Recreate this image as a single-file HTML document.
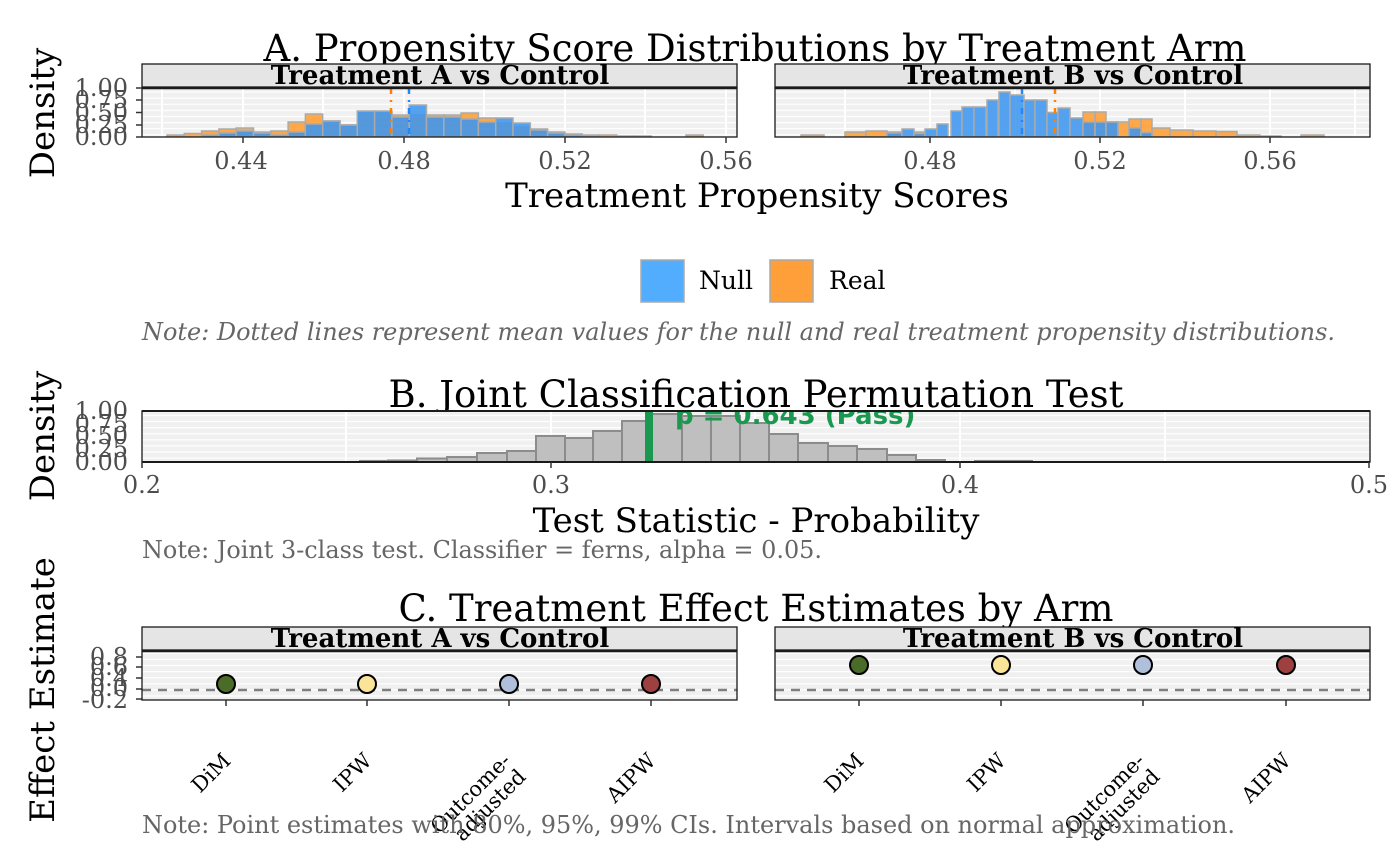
<!DOCTYPE html>
<html><head><meta charset="utf-8"><style>
html,body{margin:0;padding:0;background:#fff}
svg{display:block}
text{font-family:"DejaVu Serif","Liberation Serif",serif}
text.sans{font-family:"DejaVu Sans","Liberation Sans",sans-serif}
</style></head><body>
<svg width="1400" height="866" viewBox="0 0 1400 866" xmlns="http://www.w3.org/2000/svg">
<defs>
<clipPath id="cA1"><rect x="142" y="88" width="595" height="49"/></clipPath>
<clipPath id="cA2"><rect x="775" y="88" width="595" height="49"/></clipPath>
<clipPath id="cB"><rect x="142" y="411" width="1228" height="51"/></clipPath>
<pattern id="hg" width="10" height="6.1" patternUnits="userSpaceOnUse"><rect width="10" height="6.1" fill="#f0f0f0"/><rect width="10" height="1.2" fill="#fff"/></pattern>
</defs>

<!-- ===== A ===== -->
<text x="755" y="61" font-size="37" text-anchor="middle">A. Propensity Score Distributions by Treatment Arm</text>
<text transform="translate(54,113) rotate(-90)" font-size="34" text-anchor="middle">Density</text>
<g font-size="24" fill="#4d4d4d" text-anchor="end">
<text x="128" y="96">1.00</text><text x="128" y="108">0.75</text><text x="128" y="121">0.50</text><text x="128" y="133">0.25</text><text x="128" y="145">0.00</text>
</g>
<!-- left panel -->
<rect x="142" y="64" width="595" height="23" fill="#e5e5e5" stroke="#1a1a1a" stroke-width="1.3"/>
<text x="440" y="84" font-size="26" font-weight="bold" text-anchor="middle">Treatment A vs Control</text>
<rect x="142" y="88" width="595" height="49" fill="url(#hg)"/>
<g stroke="#fff" stroke-width="2"><line x1="162" y1="88" x2="162" y2="137"/><line x1="243" y1="88" x2="243" y2="137"/><line x1="323" y1="88" x2="323" y2="137"/><line x1="404" y1="88" x2="404" y2="137"/><line x1="484" y1="88" x2="484" y2="137"/><line x1="565" y1="88" x2="565" y2="137"/><line x1="645" y1="88" x2="645" y2="137"/><line x1="726" y1="88" x2="726" y2="137"/></g>
<g clip-path="url(#cA1)" stroke="#aaa" stroke-width="1.5">
<g fill="#ff9a2e" fill-opacity="0.85">
<rect x="167" y="135" width="17.3" height="2"/><rect x="184.3" y="133.5" width="17.3" height="3.5"/><rect x="201.6" y="131" width="17.3" height="6"/><rect x="218.9" y="129" width="17.3" height="8"/><rect x="236.2" y="128" width="17.3" height="9"/><rect x="253.5" y="132" width="17.3" height="5"/><rect x="270.8" y="131" width="17.3" height="6"/><rect x="288.1" y="122" width="17.3" height="15"/><rect x="305.4" y="114" width="17.3" height="23"/><rect x="322.7" y="121" width="17.3" height="16"/><rect x="340" y="125" width="17.3" height="12"/><rect x="357.3" y="113" width="17.3" height="24"/><rect x="374.6" y="113" width="17.3" height="24"/><rect x="391.9" y="115" width="17.3" height="22"/><rect x="409.2" y="115" width="17.3" height="22"/><rect x="426.5" y="115" width="17.3" height="22"/><rect x="443.8" y="115" width="17.3" height="22"/><rect x="461.1" y="113" width="17.3" height="24"/><rect x="478.4" y="118" width="17.3" height="19"/><rect x="495.7" y="123" width="17.3" height="14"/><rect x="513" y="127" width="17.3" height="10"/><rect x="530.3" y="129" width="17.3" height="8"/><rect x="547.6" y="132" width="17.3" height="5"/><rect x="564.9" y="134" width="17.3" height="3"/><rect x="582.2" y="135" width="17.3" height="2"/><rect x="599.5" y="135" width="17.3" height="2"/><rect x="616.8" y="136" width="17.3" height="1"/><rect x="634.1" y="136" width="17.3" height="1"/><rect x="686" y="135" width="17.3" height="2"/>
</g>
<g fill="#3d95ef" fill-opacity="0.88">
<rect x="201.6" y="135" width="17.3" height="2"/><rect x="218.9" y="133" width="17.3" height="4"/><rect x="236.2" y="131" width="17.3" height="6"/><rect x="253.5" y="133" width="17.3" height="4"/><rect x="270.8" y="135" width="17.3" height="2"/><rect x="288.1" y="132" width="17.3" height="5"/><rect x="305.4" y="124" width="17.3" height="13"/><rect x="322.7" y="121" width="17.3" height="16"/><rect x="340" y="125" width="17.3" height="12"/><rect x="357.3" y="111" width="17.3" height="26"/><rect x="374.6" y="111" width="17.3" height="26"/><rect x="391.9" y="117" width="17.3" height="20"/><rect x="409.2" y="105" width="17.3" height="32"/><rect x="426.5" y="117" width="17.3" height="20"/><rect x="443.8" y="117" width="17.3" height="20"/><rect x="461.1" y="119" width="17.3" height="18"/><rect x="478.4" y="122" width="17.3" height="15"/><rect x="495.7" y="118" width="17.3" height="19"/><rect x="513" y="123" width="17.3" height="14"/><rect x="530.3" y="130" width="17.3" height="7"/><rect x="547.6" y="133" width="17.3" height="4"/><rect x="564.9" y="135" width="17.3" height="2"/><rect x="582.2" y="136" width="17.3" height="1"/>
</g>
</g>
<line x1="391" y1="88" x2="391" y2="137" stroke="#ff8000" stroke-width="2.5" stroke-dasharray="6,6,2,6"/>
<line x1="409" y1="88" x2="409" y2="137" stroke="#1e88ff" stroke-width="2.5" stroke-dasharray="6,6,2,6"/>
<rect x="142" y="88" width="595" height="49" fill="none" stroke="#1a1a1a" stroke-width="1.3"/>
<line x1="142" y1="88" x2="737" y2="88" stroke="#1a1a1a" stroke-width="2.5"/>
<g stroke="#333" stroke-width="1.5"><line x1="243" y1="137" x2="243" y2="143"/><line x1="404" y1="137" x2="404" y2="143"/><line x1="565" y1="137" x2="565" y2="143"/><line x1="726" y1="137" x2="726" y2="143"/>
<line x1="136" y1="88" x2="142" y2="88"/><line x1="136" y1="100" x2="142" y2="100"/><line x1="136" y1="112.5" x2="142" y2="112.5"/><line x1="136" y1="125" x2="142" y2="125"/><line x1="136" y1="137" x2="142" y2="137"/></g>
<g font-size="24" fill="#4d4d4d" text-anchor="middle"><text x="241" y="169">0.44</text><text x="404" y="169">0.48</text><text x="565" y="169">0.52</text><text x="726" y="169">0.56</text></g>

<!-- right panel -->
<rect x="775" y="64" width="595" height="23" fill="#e5e5e5" stroke="#1a1a1a" stroke-width="1.3"/>
<text x="1073" y="84" font-size="26" font-weight="bold" text-anchor="middle">Treatment B vs Control</text>
<rect x="775" y="88" width="595" height="49" fill="url(#hg)"/>
<g stroke="#fff" stroke-width="2"><line x1="845" y1="88" x2="845" y2="137"/><line x1="930" y1="88" x2="930" y2="137"/><line x1="1015" y1="88" x2="1015" y2="137"/><line x1="1100" y1="88" x2="1100" y2="137"/><line x1="1185" y1="88" x2="1185" y2="137"/><line x1="1270" y1="88" x2="1270" y2="137"/><line x1="1355" y1="88" x2="1355" y2="137"/></g>
<g clip-path="url(#cA2)" stroke="#aaa" stroke-width="1.5">
<g fill="#ff9a2e" fill-opacity="0.85">
<rect x="801" y="135" width="23" height="2"/><rect x="845" y="132" width="21" height="5"/><rect x="866" y="131" width="21" height="6"/><rect x="887" y="132" width="15" height="5"/><rect x="914" y="132" width="11" height="5"/><rect x="1083" y="112" width="12" height="25"/><rect x="1095" y="112" width="11" height="25"/><rect x="1106" y="122" width="12" height="15"/><rect x="1118" y="122" width="11" height="15"/><rect x="1129" y="119" width="12" height="18"/><rect x="1141" y="119" width="11" height="18"/><rect x="1152" y="128" width="18" height="9"/><rect x="1170" y="130" width="23" height="7"/><rect x="1193" y="131" width="23" height="6"/><rect x="1216" y="131.5" width="21" height="5.5"/><rect x="1237" y="135" width="23" height="2"/><rect x="1260" y="136" width="21" height="1"/><rect x="1301" y="135" width="23" height="2"/>
</g>
<g fill="#3d95ef" fill-opacity="0.88">
<rect x="887" y="133" width="15" height="4"/><rect x="902" y="129" width="12" height="8"/><rect x="914" y="133.5" width="11" height="3.5"/><rect x="925" y="129" width="12" height="8"/><rect x="937" y="124" width="11" height="13"/><rect x="951" y="111" width="11" height="26"/><rect x="962" y="107" width="12" height="30"/><rect x="974" y="107" width="12" height="30"/><rect x="987" y="100" width="11" height="37"/><rect x="999" y="92" width="11" height="45"/><rect x="1010" y="95" width="14" height="42"/><rect x="1024" y="100" width="11" height="37"/><rect x="1035" y="100" width="12" height="37"/><rect x="1047" y="112.5" width="11" height="24.5"/><rect x="1058" y="108" width="12" height="29"/><rect x="1070" y="118" width="13" height="19"/><rect x="1083" y="122" width="12" height="15"/><rect x="1095" y="122" width="11" height="15"/><rect x="1106" y="122" width="12" height="15"/><rect x="1129" y="128" width="12" height="9"/><rect x="1141" y="132.5" width="11" height="4.5"/>
</g>
</g>
<line x1="1022" y1="88" x2="1022" y2="137" stroke="#1e88ff" stroke-width="2.5" stroke-dasharray="6,6,2,6"/>
<line x1="1055" y1="88" x2="1055" y2="137" stroke="#ff8000" stroke-width="2.5" stroke-dasharray="6,6,2,6"/>
<rect x="775" y="88" width="595" height="49" fill="none" stroke="#1a1a1a" stroke-width="1.3"/>
<line x1="775" y1="88" x2="1370" y2="88" stroke="#1a1a1a" stroke-width="2.5"/>
<g stroke="#333" stroke-width="1.5"><line x1="930" y1="137" x2="930" y2="143"/><line x1="1100" y1="137" x2="1100" y2="143"/><line x1="1270" y1="137" x2="1270" y2="143"/></g>
<g font-size="24" fill="#4d4d4d" text-anchor="middle"><text x="930" y="169">0.48</text><text x="1100" y="169">0.52</text><text x="1270" y="169">0.56</text></g>
<text x="757" y="207" font-size="34" text-anchor="middle">Treatment Propensity Scores</text>

<!-- legend -->
<rect x="641" y="260" width="43" height="42" fill="#52adff" stroke="#aaa" stroke-width="1.5"/>
<text x="699" y="289" font-size="25">Null</text>
<rect x="770" y="260" width="43" height="42" fill="#ff9f3a" stroke="#aaa" stroke-width="1.5"/>
<text x="829" y="289" font-size="25">Real</text>
<text x="142" y="340" font-size="24" font-style="italic" fill="#666" textLength="1193" lengthAdjust="spacingAndGlyphs">Note: Dotted lines represent mean values for the null and real treatment propensity distributions.</text>

<!-- ===== B ===== -->
<text x="756" y="407" font-size="37" text-anchor="middle">B. Joint Classification Permutation Test</text>
<text transform="translate(54,436) rotate(-90)" font-size="34" text-anchor="middle">Density</text>
<g font-size="24" fill="#4d4d4d" text-anchor="end">
<text x="128" y="419">1.00</text><text x="128" y="432">0.75</text><text x="128" y="444">0.50</text><text x="128" y="457">0.25</text><text x="128" y="470">0.00</text>
</g>
<rect x="142" y="411" width="1228" height="51" fill="url(#hg)"/>
<g stroke="#fff" stroke-width="2"><line x1="346" y1="411" x2="346" y2="462"/><line x1="551" y1="411" x2="551" y2="462"/><line x1="755" y1="411" x2="755" y2="462"/><line x1="960" y1="411" x2="960" y2="462"/><line x1="1165" y1="411" x2="1165" y2="462"/></g>
<g clip-path="url(#cB)" fill="#bfbfbf" stroke="#8c8c8c" stroke-width="2">
<rect x="360" y="461" width="28" height="1"/><rect x="388" y="460.5" width="29" height="1.5"/><rect x="417" y="458.5" width="30" height="3.5"/><rect x="447" y="457" width="30" height="5"/><rect x="477" y="453" width="30" height="9"/><rect x="507" y="451" width="29" height="11"/><rect x="536" y="436" width="29" height="26"/><rect x="565" y="438" width="28" height="24"/><rect x="593" y="431" width="29" height="31"/><rect x="622" y="421" width="30" height="41"/><rect x="652" y="414" width="30" height="48"/><rect x="682" y="416" width="29" height="46"/><rect x="711" y="416" width="29" height="46"/><rect x="740" y="423" width="29" height="39"/><rect x="769" y="434" width="29" height="28"/><rect x="798" y="443" width="30" height="19"/><rect x="828" y="446" width="29" height="16"/><rect x="857" y="449" width="30" height="13"/><rect x="887" y="455" width="29" height="7"/><rect x="916" y="460" width="29" height="2"/><rect x="975" y="461" width="57" height="1"/>
<line x1="649" y1="411" x2="649" y2="462" stroke="#1a9850" stroke-width="8"/>
<text class="sans" x="675" y="424" font-size="26" font-weight="bold" fill="#1a9850" stroke="none">p = 0.643 (Pass)</text>
</g>
<rect x="142" y="411" width="1228" height="51" fill="none" stroke="#1a1a1a" stroke-width="1.3"/>
<line x1="142" y1="462" x2="1370" y2="462" stroke="#1a1a1a" stroke-width="2"/>
<line x1="142" y1="411" x2="1370" y2="411" stroke="#1a1a1a" stroke-width="2"/>
<g stroke="#333" stroke-width="1.5"><line x1="142" y1="462" x2="142" y2="468"/><line x1="551" y1="462" x2="551" y2="468"/><line x1="960" y1="462" x2="960" y2="468"/><line x1="1369" y1="462" x2="1369" y2="468"/></g>
<g font-size="24" fill="#4d4d4d" text-anchor="middle"><text x="142" y="493">0.2</text><text x="551" y="493">0.3</text><text x="960" y="493">0.4</text><text x="1369" y="493">0.5</text></g>
<text x="756" y="532" font-size="34" text-anchor="middle">Test Statistic - Probability</text>
<text x="142" y="558" font-size="24" fill="#666" textLength="680" lengthAdjust="spacingAndGlyphs">Note: Joint 3-class test. Classifier = ferns, alpha = 0.05.</text>

<!-- ===== C ===== -->
<text x="756" y="621" font-size="37" text-anchor="middle">C. Treatment Effect Estimates by Arm</text>
<text transform="translate(54,690) rotate(-90)" font-size="34" text-anchor="middle">Effect Estimate</text>
<g font-size="24" fill="#4d4d4d" text-anchor="end">
<text x="128" y="665">0.8</text><text x="128" y="675">0.6</text><text x="128" y="686">0.4</text><text x="128" y="696">0.0</text><text x="128" y="708">-0.2</text>
</g>
<g stroke="#333" stroke-width="1.5"><line x1="136" y1="657" x2="142" y2="657"/><line x1="136" y1="667" x2="142" y2="667"/><line x1="136" y1="678" x2="142" y2="678"/><line x1="136" y1="689" x2="142" y2="689"/><line x1="136" y1="699" x2="142" y2="699"/></g>
<!-- left -->
<rect x="142" y="627" width="595" height="23" fill="#e5e5e5" stroke="#1a1a1a" stroke-width="1.3"/>
<text x="440" y="647" font-size="26" font-weight="bold" text-anchor="middle">Treatment A vs Control</text>
<rect x="142" y="651" width="595" height="49" fill="url(#hg)"/>
<line x1="142" y1="690" x2="737" y2="690" stroke="#808080" stroke-width="2.5" stroke-dasharray="9,7"/>
<g stroke="#000" stroke-width="2">
<circle cx="226" cy="684" r="9" fill="#4b6b28"/><circle cx="367" cy="684" r="9" fill="#f9e49a"/><circle cx="509" cy="684" r="9" fill="#b0c0da"/><circle cx="651" cy="684" r="9" fill="#9c4040"/>
</g>
<rect x="142" y="651" width="595" height="49" fill="none" stroke="#1a1a1a" stroke-width="1.3"/>
<line x1="142" y1="651" x2="737" y2="651" stroke="#1a1a1a" stroke-width="2.5"/>
<g stroke="#333" stroke-width="1.5"><line x1="226" y1="700" x2="226" y2="706"/><line x1="367" y1="700" x2="367" y2="706"/><line x1="509" y1="700" x2="509" y2="706"/><line x1="651" y1="700" x2="651" y2="706"/></g>
<!-- right -->
<rect x="775" y="627" width="595" height="23" fill="#e5e5e5" stroke="#1a1a1a" stroke-width="1.3"/>
<text x="1073" y="647" font-size="26" font-weight="bold" text-anchor="middle">Treatment B vs Control</text>
<rect x="775" y="651" width="595" height="49" fill="url(#hg)"/>
<line x1="775" y1="690" x2="1370" y2="690" stroke="#808080" stroke-width="2.5" stroke-dasharray="9,7"/>
<g stroke="#000" stroke-width="2">
<circle cx="859" cy="665" r="9" fill="#4b6b28"/><circle cx="1001" cy="665" r="9" fill="#f9e49a"/><circle cx="1143" cy="665" r="9" fill="#b0c0da"/><circle cx="1286" cy="665" r="9" fill="#9c4040"/>
</g>
<rect x="775" y="651" width="595" height="49" fill="none" stroke="#1a1a1a" stroke-width="1.3"/>
<line x1="775" y1="651" x2="1370" y2="651" stroke="#1a1a1a" stroke-width="2.5"/>
<g stroke="#333" stroke-width="1.5"><line x1="859" y1="700" x2="859" y2="706"/><line x1="1001" y1="700" x2="1001" y2="706"/><line x1="1143" y1="700" x2="1143" y2="706"/><line x1="1286" y1="700" x2="1286" y2="706"/></g>
<!-- rotated labels -->
<g font-size="21" text-anchor="end">
<text transform="translate(232,762) rotate(-45)">DiM</text>
<text transform="translate(373,762) rotate(-45)">IPW</text>
<text transform="translate(512,762) rotate(-45)">Outcome-</text>
<text transform="translate(527,778) rotate(-45)">adjusted</text>
<text transform="translate(657,762) rotate(-45)">AIPW</text>
<text transform="translate(865,762) rotate(-45)">DiM</text>
<text transform="translate(1007,762) rotate(-45)">IPW</text>
<text transform="translate(1146,762) rotate(-45)">Outcome-</text>
<text transform="translate(1161,778) rotate(-45)">adjusted</text>
<text transform="translate(1292,762) rotate(-45)">AIPW</text>
</g>
<text x="142" y="833" font-size="24" fill="#666" textLength="1093" lengthAdjust="spacingAndGlyphs">Note: Point estimates with 80%, 95%, 99% CIs. Intervals based on normal approximation.</text>
</svg>
</body></html>
